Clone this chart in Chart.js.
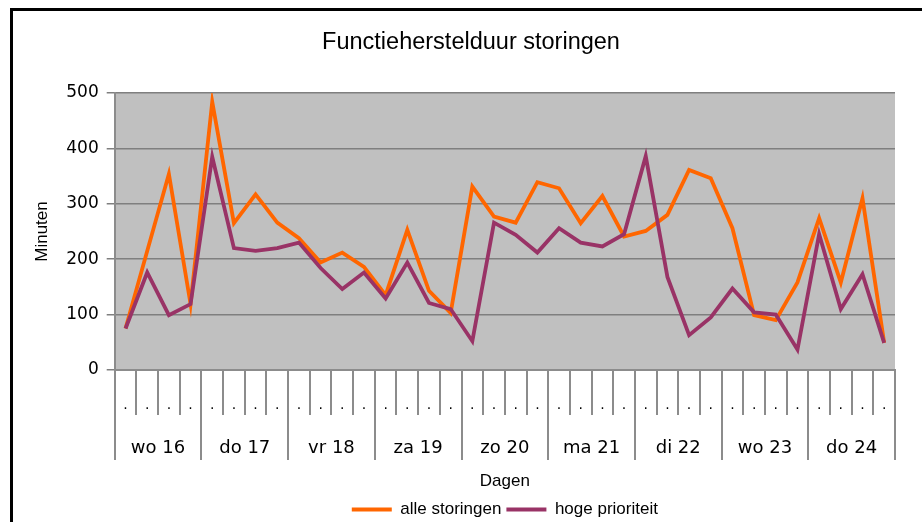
<!DOCTYPE html>
<html>
<head>
<meta charset="utf-8">
<script src="https://cdn.jsdelivr.net/npm/chart.js@4.4.1/dist/chart.umd.min.js"></script>
<style>
  html, body { margin: 0; padding: 0; background: #fff; overflow: hidden; }
  #wrap { position: relative; width: 922px; height: 522px; overflow: hidden; }
  #frame { position: absolute; left: 10px; top: 8px; width: 960px; height: 560px;
           border-left: 3px solid #000; border-top: 3px solid #000; pointer-events: none; }
  canvas { position: absolute; left: 0; top: 0; }
</style>
</head>
<body>
<div id="wrap">
  <canvas id="grafiek" width="922" height="528"></canvas>
  <div id="frame"></div>
</div>
<script>
// dagen (hoofdcategorieën) en 4 metingen per dag
const dagen = ['wo 16', 'do 17', 'vr 18', 'za 19', 'zo 20', 'ma 21', 'di 22', 'wo 23', 'do 24'];
const subLabels = dagen.flatMap(() => ['.', '.', '.', '.']);

// minuten per meting
const alleStoringen = [75, 215, 354, 119, 484, 265, 317, 266, 238, 194, 212, 186,
  135, 253, 143, 103, 331, 277, 266, 339, 328, 265, 314, 241,
  251, 280, 361, 346, 256, 99, 90, 158, 274, 158, 310, 49];
const hogePrioriteit = [75, 176, 99, 119, 385, 220, 215, 220, 230, 184, 146, 176,
  129, 194, 121, 110, 52, 266, 244, 212, 256, 230, 223, 245,
  386, 168, 63, 95, 147, 104, 100, 37, 245, 110, 173, 49];

const yTicks = [0, 100, 200, 300, 400, 500];

// grijze achtergrond van het plotgebied
const plotAchtergrond = {
  id: 'plotAchtergrond',
  beforeDraw(chart) {
    const { ctx, chartArea } = chart;
    ctx.save();
    ctx.fillStyle = '#c0c0c0';
    ctx.fillRect(chartArea.left, chartArea.top, chartArea.right - chartArea.left, chartArea.bottom - chartArea.top);
    ctx.restore();
  }
};

const ctx = document.getElementById('grafiek').getContext('2d');
new Chart(ctx, {
  type: 'line',
  data: {
    labels: subLabels,
    datasets: [
      {
        label: 'alle storingen',
        data: alleStoringen,
        borderColor: '#ff6600',
        backgroundColor: '#ff6600',
        borderWidth: 3.8,
        pointRadius: 0,
        pointStyle: 'line',
        tension: 0,
        order: 2
      },
      {
        label: 'hoge prioriteit',
        data: hogePrioriteit,
        borderColor: '#993366',
        backgroundColor: '#993366',
        borderWidth: 3.8,
        pointRadius: 0,
        pointStyle: 'line',
        tension: 0,
        order: 1
      }
    ]
  },
  options: {
    responsive: false,
    animation: false,
    layout: { padding: { left: 47, right: 27, top: 0, bottom: 0 } },
    plugins: {
      title: {
        display: true,
        text: 'Functieherstelduur storingen',
        color: '#000',
        font: { family: 'Liberation Sans', size: 23.5, weight: 'normal' },
        padding: { top: 28, bottom: 36.8 }
      },
      legend: {
        position: 'bottom',
        fullSize: false,
        labels: {
          usePointStyle: true,
          pointStyleWidth: 40,
          color: '#000',
          font: { family: 'Liberation Sans', size: 17 },
          padding: 5,
          sort: (a, b) => a.datasetIndex - b.datasetIndex
        }
      },
      tooltip: { enabled: false }
    },
    scales: {
      x: {
        type: 'category',
        position: 'bottom',
        offset: true,
        weight: 0,
        afterFit(scale) { scale.height = 45; },
        grid: {
          offset: true,
          drawOnChartArea: false,
          drawTicks: true,
          tickLength: 45,
          color: '#8c8c8c',
          lineWidth: 2
        },
        border: { display: true, color: '#8c8c8c', width: 2 },
        ticks: {
          autoSkip: false,
          maxRotation: 0,
          color: '#000',
          font: { family: 'DejaVu Sans', size: 14 },
          padding: -18
        }
      },
      x2: {
        type: 'category',
        labels: dagen,
        position: 'bottom',
        offset: true,
        weight: 1,
        afterFit(scale) { scale.height = 81; },
        grid: {
          offset: true,
          drawOnChartArea: false,
          drawTicks: true,
          tickLength: 45,
          color: '#8c8c8c',
          lineWidth: 2
        },
        border: { display: false },
        ticks: {
          autoSkip: false,
          maxRotation: 0,
          color: '#000',
          font: { family: 'DejaVu Sans', size: 18 },
          padding: -22
        },
        title: {
          display: true,
          text: 'Dagen',
          color: '#000',
          font: { family: 'Liberation Sans', size: 17 },
          padding: { top: 12, bottom: 4 }
        }
      },
      y: {
        min: yTicks[0],
        max: yTicks[yTicks.length - 1],
        afterFit(scale) { scale.width = 67.7; },
        afterBuildTicks(scale) { scale.ticks = yTicks.map(v => ({ value: v })); },
        grid: {
          color: '#7f7f7f',
          lineWidth: 1.5,
          tickLength: 8
        },
        border: { display: true, color: '#8c8c8c', width: 2 },
        ticks: {
          color: '#000',
          font: { family: 'DejaVu Sans', size: 17 },
          padding: 8
        },
        title: {
          display: true,
          text: 'Minuten',
          color: '#000',
          font: { family: 'Liberation Sans', size: 17 },
          padding: { top: -15.2, bottom: 0 }
        }
      }
    }
  },
  plugins: [plotAchtergrond]
});
</script>
</body>
</html>
